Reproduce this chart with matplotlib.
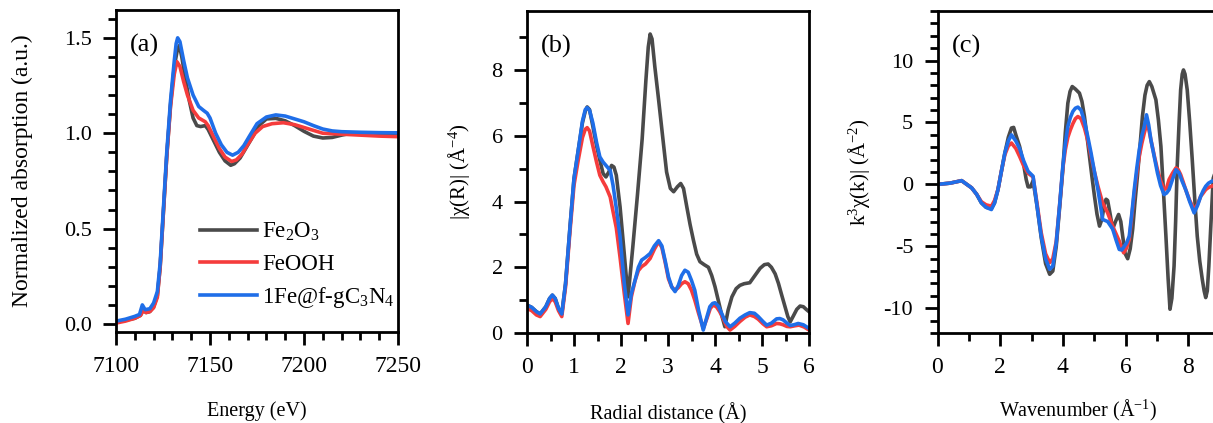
import matplotlib
matplotlib.use("Agg")
import matplotlib.pyplot as plt
from matplotlib.ticker import MultipleLocator, FormatStrFormatter

plt.rcParams['font.family'] = ['Liberation Serif', 'DejaVu Serif']
plt.rcParams['mathtext.fontset'] = 'custom'
plt.rcParams['mathtext.rm'] = 'Liberation Serif'
plt.rcParams['mathtext.it'] = 'Liberation Serif:italic'
plt.rcParams['axes.unicode_minus'] = False

# ---------------- panel (a): XANES ----------------
e_fe2o3 = [7100, 7105, 7110, 7113, 7114.5, 7116, 7118, 7120, 7122, 7123.5, 7125, 7127, 7129, 7131,
           7132.5, 7133.7, 7135, 7137, 7139, 7141, 7143, 7145, 7147.5, 7149, 7152, 7155, 7158, 7161,
           7163, 7166, 7169, 7172, 7176, 7180, 7185, 7190, 7195, 7200, 7205, 7210, 7215, 7220, 7225,
           7230, 7240, 7250]
a_fe2o3 = [0.01, 0.02, 0.03, 0.045, 0.075, 0.06, 0.065, 0.09, 0.15, 0.3, 0.55, 0.88, 1.15, 1.35,
           1.43, 1.46, 1.40, 1.28, 1.17, 1.08, 1.04, 1.035, 1.04, 1.02, 0.96, 0.9, 0.855, 0.832,
           0.84, 0.87, 0.92, 0.97, 1.04, 1.075, 1.078, 1.065, 1.04, 1.01, 0.985, 0.975, 0.978, 0.99, 1.0,
           1.0, 1.0, 1.0]

e_feooh = [7100, 7105, 7110, 7113, 7114.5, 7116, 7118, 7120, 7122, 7123.5, 7125, 7127, 7129, 7131,
           7132.4, 7134, 7136, 7138, 7141, 7144, 7147.5, 7149, 7152, 7155, 7158, 7161.5, 7164, 7167,
           7170, 7174, 7178, 7183, 7189, 7195, 7200, 7205, 7210, 7220, 7230, 7240, 7250]
a_feooh = [0.005, 0.015, 0.03, 0.045, 0.07, 0.06, 0.065, 0.085, 0.14, 0.3, 0.55, 0.88, 1.14, 1.31,
           1.375, 1.35, 1.27, 1.2, 1.12, 1.08, 1.06, 1.04, 0.98, 0.92, 0.875, 0.852, 0.86, 0.89,
           0.94, 1.0, 1.035, 1.05, 1.055, 1.045, 1.03, 1.015, 1.0, 0.995, 0.99, 0.985, 0.982]

e_fegcn = [7100, 7105, 7110, 7112.5, 7114, 7115.5, 7118, 7120, 7122, 7123.5, 7125, 7127, 7129, 7131,
           7132, 7132.8, 7134, 7136, 7138, 7141, 7144, 7146.5, 7148.5, 7150, 7153, 7156, 7159, 7162,
           7165, 7168, 7171, 7175, 7180, 7185, 7190, 7195, 7200, 7205, 7210, 7215, 7220, 7230, 7240, 7250]
a_fegcn = [0.015, 0.025, 0.04, 0.05, 0.10, 0.075, 0.08, 0.11, 0.17, 0.32, 0.57, 0.9, 1.17, 1.38,
           1.47, 1.50, 1.48, 1.38, 1.29, 1.2, 1.14, 1.12, 1.105, 1.08, 1.0, 0.94, 0.9, 0.885,
           0.9, 0.935, 0.985, 1.05, 1.085, 1.096, 1.09, 1.075, 1.06, 1.04, 1.022, 1.012, 1.008, 1.005, 1.003, 1.002]

# ---------------- panel (b): |chi(R)| ----------------
r_fe2o3 = [0.0, 0.1, 0.2, 0.28, 0.4, 0.48, 0.54, 0.6, 0.67, 0.74, 0.82, 0.915, 1.0, 1.09, 1.18, 1.24,
           1.28, 1.33, 1.4, 1.48, 1.55, 1.62, 1.68, 1.74, 1.80, 1.85, 1.9, 1.98, 2.07, 2.15, 2.25,
           2.35, 2.45, 2.53, 2.58, 2.62, 2.66, 2.72, 2.8, 2.9, 2.97, 3.05, 3.12, 3.2, 3.27, 3.33,
           3.4, 3.47, 3.54, 3.61, 3.68, 3.77, 3.86, 3.93, 4.0, 4.06, 4.11, 4.16, 4.21, 4.28, 4.36,
           4.45, 4.53, 4.62, 4.74, 4.85, 4.96, 5.05, 5.13, 5.2, 5.28, 5.35, 5.42, 5.49, 5.55, 5.60,
           5.66, 5.74, 5.81, 5.88, 5.94, 6.0]
x_fe2o3 = [0.85, 0.78, 0.65, 0.58, 0.8, 1.05, 1.15, 1.05, 0.75, 0.58, 1.5, 3.23, 4.7, 5.56, 6.4, 6.75,
           6.88, 6.8, 6.3, 5.7, 5.26, 4.85, 4.75, 4.9, 5.1, 5.05, 4.8, 3.84, 2.4, 1.1, 2.6,
           4.2, 5.9, 7.7, 8.7, 9.1, 8.95, 8.1, 7.1, 5.8, 4.9, 4.4, 4.3, 4.45, 4.55, 4.4,
           3.84, 3.3, 2.83, 2.4, 2.17, 2.08, 2.0, 1.75, 1.41, 1.05, 0.75, 0.45, 0.19, 0.7, 1.10,
           1.35, 1.45, 1.5, 1.53, 1.75, 1.97, 2.08, 2.10, 2.0, 1.8, 1.51, 1.15, 0.8, 0.5, 0.34,
           0.5, 0.72, 0.82, 0.8, 0.72, 0.65]

r_feooh = [0.0, 0.1, 0.2, 0.28, 0.4, 0.48, 0.54, 0.6, 0.67, 0.74, 0.82, 0.915, 1.0, 1.09, 1.18, 1.24,
           1.28, 1.33, 1.4, 1.48, 1.55, 1.62, 1.68, 1.77, 1.83, 1.9, 1.98, 2.07, 2.15, 2.22, 2.3,
           2.37, 2.44, 2.52, 2.62, 2.71, 2.80, 2.87, 2.94, 3.01, 3.08, 3.15, 3.22, 3.29, 3.36, 3.43,
           3.5, 3.57, 3.65, 3.75, 3.83, 3.9, 3.96, 4.03, 4.1, 4.17, 4.25, 4.32, 4.42, 4.53, 4.64,
           4.74, 4.84, 4.92, 5.02, 5.10, 5.2, 5.31, 5.38, 5.45, 5.53, 5.60, 5.7, 5.79, 5.9, 6.0]
x_feooh = [0.75, 0.68, 0.55, 0.5, 0.72, 0.95, 1.05, 0.95, 0.68, 0.5, 1.4, 3.1, 4.5, 5.26, 5.95, 6.2,
           6.25, 6.15, 5.7, 5.2, 4.8, 4.6, 4.45, 4.14, 3.7, 3.2, 2.3, 1.2, 0.29, 1.1, 1.6,
           1.9, 2.02, 2.1, 2.27, 2.55, 2.78, 2.6, 2.15, 1.65, 1.4, 1.3, 1.38, 1.5, 1.56, 1.5,
           1.3, 1.0, 0.6, 0.14, 0.45, 0.75, 0.85, 0.8, 0.65, 0.45, 0.2, 0.09, 0.2, 0.35, 0.48,
           0.55, 0.5, 0.42, 0.28, 0.19, 0.22, 0.29, 0.28, 0.25, 0.2, 0.19, 0.22, 0.24, 0.18, 0.09]

r_fegcn = [0.0, 0.1, 0.2, 0.28, 0.4, 0.48, 0.54, 0.6, 0.67, 0.74, 0.82, 0.915, 1.0, 1.09, 1.18, 1.24,
           1.28, 1.33, 1.4, 1.48, 1.55, 1.62, 1.68, 1.77, 1.83, 1.9, 1.98, 2.07, 2.15, 2.22, 2.3,
           2.37, 2.44, 2.52, 2.62, 2.71, 2.80, 2.87, 2.94, 3.01, 3.08, 3.15, 3.22, 3.29, 3.36, 3.43,
           3.5, 3.57, 3.65, 3.75, 3.82, 3.89, 3.95, 4.0, 4.07, 4.14, 4.22, 4.32, 4.42, 4.53, 4.64,
           4.74, 4.84, 4.92, 5.02, 5.10, 5.2, 5.31, 5.38, 5.45, 5.53, 5.60, 5.68, 5.77, 5.88, 6.0]
x_fegcn = [0.85, 0.78, 0.65, 0.58, 0.8, 1.05, 1.155, 1.05, 0.75, 0.58, 1.5, 3.23, 4.7, 5.56, 6.45, 6.8,
           6.86, 6.78, 6.4, 5.8, 5.36, 5.2, 5.1, 4.95, 4.5, 3.8, 2.93, 1.5, 0.55, 1.2, 1.61,
           2.0, 2.22, 2.3, 2.42, 2.65, 2.81, 2.65, 2.2, 1.71, 1.4, 1.26, 1.45, 1.75, 1.91, 1.85,
           1.6, 1.3, 0.70, 0.09, 0.45, 0.80, 0.9, 0.92, 0.82, 0.60, 0.35, 0.19, 0.3, 0.45, 0.55,
           0.62, 0.6, 0.50, 0.35, 0.24, 0.3, 0.43, 0.44, 0.40, 0.3, 0.23, 0.25, 0.29, 0.25, 0.14]

# ---------------- panel (c): k^3 chi(k) ----------------
k_fe2o3 = [0.0, 0.4, 0.77, 1.09, 1.25, 1.4, 1.55, 1.72, 1.82, 1.93, 2.05, 2.15, 2.26, 2.36, 2.43, 2.5,
           2.62, 2.75, 2.83, 2.89, 2.97, 3.05, 3.18, 3.31, 3.45, 3.58, 3.68, 3.79, 3.9, 4.0, 4.08,
           4.16, 4.23, 4.3, 4.4, 4.53, 4.61, 4.69, 4.77, 4.85, 4.93, 5.01, 5.09, 5.17, 5.25, 5.33,
           5.38, 5.43, 5.51, 5.59, 5.68, 5.78, 5.85, 5.91, 5.99, 6.07, 6.15, 6.23, 6.30, 6.38,
           6.46, 6.54, 6.62, 6.69, 6.76, 6.84, 6.97, 7.05, 7.13, 7.21, 7.29, 7.36, 7.42, 7.48,
           7.55, 7.6, 7.65, 7.71, 7.76, 7.81, 7.85, 7.9, 7.97, 8.05, 8.13, 8.21, 8.29, 8.37, 8.45,
           8.51, 8.56, 8.61, 8.66, 8.72, 8.8, 9.0]
c_fe2o3 = [0.0, 0.1, 0.3, -0.28, -0.8, -1.49, -1.85, -1.95, -1.5, -0.42, 1.2, 2.54, 3.8, 4.55, 4.6, 4.0,
           3.07, 1.6, 0.4, -0.2, -0.2, 0.3, -1.8, -4.3, -6.4, -7.26, -7.0, -5.0, -1.8, 1.2, 4.2,
           6.56, 7.5, 7.9, 7.7, 7.37, 6.7, 5.48, 3.9, 2.26, 0.6, -0.96, -2.4, -3.37, -2.8, -1.5,
           -1.2, -1.3, -2.4, -3.6, -3.0, -2.43, -3.0, -4.18, -5.6, -6.0, -5.2, -3.6, -1.5, 0.66,
           3.0, 5.48, 7.2, 8.0, 8.3, 7.9, 6.83, 5.2, 3.07, -0.5, -4.18, -7.6, -10.08, -9.2,
           -6.59, -3.0, 1.46, 5.0, 7.63, 8.9, 9.24, 8.9, 7.63, 5.0, 2.0, -1.2, -4.18, -6.2, -7.66,
           -8.6, -9.14, -8.6, -6.59, -3.5, 0.5, 2.0]

k_feooh = [0.0, 0.4, 0.77, 1.09, 1.25, 1.4, 1.55, 1.72, 1.82, 1.93, 2.05, 2.15, 2.26, 2.36, 2.5,
           2.62, 2.75, 2.89, 3.05, 3.18, 3.31, 3.45, 3.58, 3.68, 3.79, 3.9, 4.0, 4.08, 4.16, 4.24,
           4.32, 4.4, 4.48, 4.58, 4.69, 4.80, 4.90, 5.01, 5.12, 5.27, 5.43, 5.59, 5.70, 5.80, 5.87,
           5.94, 6.02, 6.12, 6.20, 6.28, 6.36, 6.44, 6.52, 6.60, 6.67, 6.74, 6.81, 6.92, 7.02, 7.12,
           7.23, 7.31, 7.39, 7.5, 7.61, 7.68, 7.76, 7.84, 7.92, 8.05, 8.19, 8.30, 8.40, 8.48, 8.56,
           8.65, 8.75, 9.0]
c_feooh = [0.0, 0.1, 0.3, -0.28, -0.8, -1.4, -1.65, -1.76, -1.3, -0.42, 1.2, 2.4, 3.1, 3.34, 2.9,
           2.26, 1.5, 0.9, 0.6, -1.6, -3.9, -5.6, -6.32, -6.0, -4.6, -1.6, 1.3, 2.8, 3.8, 4.4,
           4.9, 5.3, 5.48, 5.3, 4.55, 3.5, 2.26, 1.0, -0.15, -1.49, -2.3, -3.37, -4.0, -4.58, -5.1,
           -5.52, -5.2, -4.45, -2.6, -0.69, 0.9, 2.26, 3.3, 4.15, 4.81, 4.5, 3.6, 2.3, 1.19, 0.3,
           -0.42, -0.3, 0.39, 0.9, 1.33, 1.2, 0.79, 0.2, -0.42, -1.3, -2.03, -1.6, -0.96, -0.7, -0.42,
           -0.25, -0.15, 0.1]

k_fegcn = [0.0, 0.4, 0.77, 1.09, 1.25, 1.4, 1.55, 1.72, 1.82, 1.93, 2.05, 2.15, 2.26, 2.36, 2.5,
           2.62, 2.75, 2.89, 3.05, 3.18, 3.31, 3.45, 3.58, 3.68, 3.79, 3.9, 4.0, 4.08, 4.16, 4.24,
           4.32, 4.4, 4.48, 4.58, 4.69, 4.80, 4.90, 5.01, 5.12, 5.27, 5.43, 5.59, 5.70, 5.80, 5.88,
           5.96, 6.04, 6.12, 6.20, 6.28, 6.36, 6.44, 6.52, 6.60, 6.67, 6.74, 6.81, 6.92, 7.02, 7.12,
           7.23, 7.31, 7.39, 7.5, 7.61, 7.71, 7.8, 7.92, 8.05, 8.19, 8.30, 8.40, 8.48, 8.56, 8.65,
           8.75, 9.0]
c_fegcn = [0.0, 0.1, 0.3, -0.28, -0.8, -1.49, -1.85, -2.03, -1.5, -0.42, 1.2, 2.54, 3.5, 4.0, 3.5,
           2.9, 1.9, 1.06, 0.66, -1.8, -4.18, -6.0, -6.86, -6.6, -4.71, -1.6, 1.46, 3.3, 4.68, 5.4,
           5.89, 6.15, 6.24, 6.0, 5.08, 3.8, 2.54, 1.0, -0.42, -2.83, -3.0, -3.6, -4.5, -5.25, -5.3,
           -5.0, -4.7, -4.18, -2.4, -0.42, 1.3, 2.8, 3.9, 4.68, 5.62, 4.8, 3.6, 2.2, 0.92, -0.1,
           -0.82, -0.7, -0.42, 0.4, 1.19, 0.92, 0.3, -0.42, -1.4, -2.3, -1.7, -0.96, -0.5, -0.15, 0.1,
           0.25, 0.4]

labels = ['Fe$_2$O$_3$', 'FeOOH', '1Fe@f-gC$_3$N$_4$']
colors = ['#4a4a4a', '#f53c3c', '#1f6ee8']
LW = 2.6

fig = plt.figure(figsize=(12.13, 4.23), dpi=100)
W = 282 / 1213
Hh = 322 / 423
bot = 1 - 332 / 423
axa = fig.add_axes([116 / 1213, bot, W, Hh])
axb = fig.add_axes([527 / 1213, bot - 1 / 423, W, Hh])
axc = fig.add_axes([937.5 / 1213, bot - 1 / 423, W, Hh])

axa.plot(e_fe2o3, a_fe2o3, color=colors[0], lw=LW, label=labels[0])
axa.plot(e_feooh, a_feooh, color=colors[1], lw=LW, label=labels[1])
axa.plot(e_fegcn, a_fegcn, color=colors[2], lw=LW, label=labels[2])

axb.plot(r_fe2o3, x_fe2o3, color=colors[0], lw=LW)
axb.plot(r_feooh, x_feooh, color=colors[1], lw=LW)
axb.plot(r_fegcn, x_fegcn, color=colors[2], lw=LW)

axc.plot(k_fe2o3, c_fe2o3, color=colors[0], lw=LW)
axc.plot(k_feooh, c_feooh, color=colors[1], lw=LW)
axc.plot(k_fegcn, c_fegcn, color=colors[2], lw=LW)

axa.set_xlim(7100, 7250)
axa.set_ylim(-0.042, 1.646)
axa.xaxis.set_major_locator(MultipleLocator(50))
axa.xaxis.set_minor_locator(MultipleLocator(10))
axa.yaxis.set_major_locator(MultipleLocator(0.5))
axa.yaxis.set_minor_locator(MultipleLocator(0.1))
axa.yaxis.set_major_formatter(FormatStrFormatter('%.1f'))

axb.set_xlim(0, 6)
axb.set_ylim(0, 9.8)
axb.xaxis.set_major_locator(MultipleLocator(1))
axb.xaxis.set_minor_locator(MultipleLocator(0.5))
axb.yaxis.set_major_locator(MultipleLocator(2))
axb.yaxis.set_minor_locator(MultipleLocator(1))

axc.set_xlim(0, 9)
axc.set_ylim(-12, 14)
axc.xaxis.set_major_locator(MultipleLocator(2))
axc.xaxis.set_minor_locator(MultipleLocator(1))
axc.yaxis.set_major_locator(MultipleLocator(5))
axc.yaxis.set_minor_locator(MultipleLocator(1))

for ax in (axa, axb, axc):
    for s in ax.spines.values():
        s.set_linewidth(2.0)
    ax.tick_params(which='major', direction='out', length=9.5, width=2.0)
    ax.tick_params(which='minor', direction='out', length=5.5, width=2.0)
    ax.tick_params(axis='x', which='major', labelsize=17, pad=7.5)
    ax.tick_params(axis='y', which='major', labelsize=16, pad=8)
    ax.tick_params(top=False, right=False)

axa.set_xlabel('Energy (eV)', fontsize=14.5, labelpad=18)
axb.set_xlabel('Radial distance (Å)', fontsize=14.5, labelpad=18)
axc.set_xlabel('Wavenumber (Å$^{-1}$)', fontsize=14.5, labelpad=15)
axa.set_ylabel('Normalized absorption (a.u.)', fontsize=17)
axb.set_ylabel('|χ(R)| (Å$^{-4}$)', fontsize=15)
axc.set_ylabel('k$^{3}$χ(k)| (Å$^{-2}$)', fontsize=15)
axa.yaxis.set_label_coords(-0.294, 0.5)
axb.yaxis.set_label_coords(-0.195, 0.5)
axc.yaxis.set_label_coords(-0.232, 0.5)

for ax, t in ((axa, '(a)'), (axb, '(b)'), (axc, '(c)')):
    ax.text(0.05, 0.925, t, transform=ax.transAxes, fontsize=19, va='top', ha='left')

axa.legend(loc='upper left', bbox_to_anchor=(0.298, 0.345), frameon=False, fontsize=16.5,
           handlelength=2.5, handletextpad=0.2, labelspacing=0.45, borderpad=0, borderaxespad=0)

fig.savefig('out.png', dpi=100)
